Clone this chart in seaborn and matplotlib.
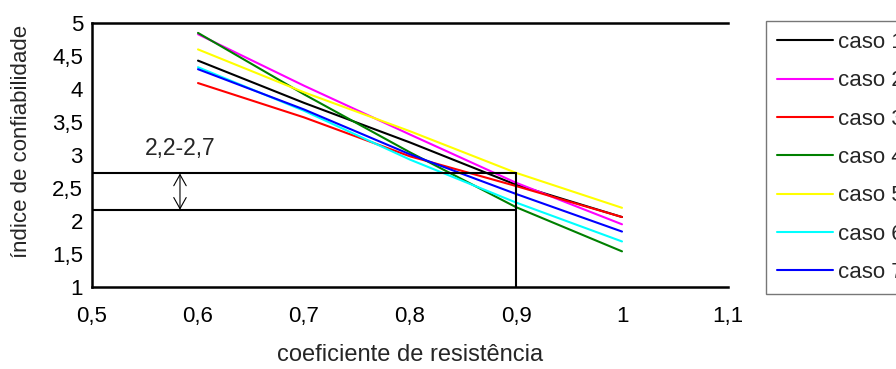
import numpy as np
import pandas as pd
import matplotlib
matplotlib.use("Agg")
import matplotlib.pyplot as plt
import seaborn as sns
from matplotlib.lines import Line2D

# ---- data ----
coef = [0.6, 0.7, 0.8, 0.9, 1.0]
caso1 = [4.43, 3.79, 3.19, 2.55, 2.06]
caso2 = [4.83, 4.05, 3.31, 2.58, 1.95]
caso3 = [4.09, 3.57, 2.98, 2.53, 2.06]
caso4 = [4.85, 3.92, 3.04, 2.21, 1.54]
caso5 = [4.60, 3.95, 3.36, 2.73, 2.20]
caso6 = [4.33, 3.67, 2.93, 2.28, 1.69]
caso7 = [4.30, 3.69, 3.01, 2.41, 1.84]
labels = ["caso 1", "caso 2", "caso 3", "caso 4", "caso 5", "caso 6", "caso 7"]
colors = ["#000000", "#FF00FF", "#FF0000", "#008000", "#FFFF00", "#00FFFF", "#0000FF"]
range_low, range_high = 2.17, 2.72
range_x = 0.9
range_label = "2,2-2,7"
xticks = [0.5, 0.6, 0.7, 0.8, 0.9, 1.0, 1.1]
xticklabels = ["0,5", "0,6", "0,7", "0,8", "0,9", "1", "1,1"]
yticks = [1, 1.5, 2, 2.5, 3, 3.5, 4, 4.5, 5]
yticklabels = ["1", "1,5", "2", "2,5", "3", "3,5", "4", "4,5", "5"]

series = [caso1, caso2, caso3, caso4, caso5, caso6, caso7]
df = pd.DataFrame({
    "coef": np.tile(coef, len(labels)),
    "beta": np.concatenate(series),
    "caso": np.repeat(labels, len(coef)),
})

sns.set_style("white")
plt.rcParams["font.family"] = ["Liberation Sans", "DejaVu Sans"]

fig = plt.figure(figsize=(8.96, 3.69), dpi=100)
ax = fig.add_axes([92 / 896, 1 - 287 / 369, (728 - 92) / 896, (287 - 23) / 369])

sns.lineplot(data=df, x="coef", y="beta", hue="caso", palette=colors,
             linewidth=1.5, ax=ax, legend=False, sort=False)

# range box
ax.plot([0.5, range_x], [range_high, range_high], color="black", lw=1.5)
ax.plot([0.5, range_x], [range_low, range_low], color="black", lw=1.5)
ax.plot([range_x, range_x], [1, range_high], color="black", lw=1.5)
ax.annotate("", xy=(0.583, range_low), xytext=(0.583, range_high),
            arrowprops=dict(arrowstyle="<->,head_length=0.5,head_width=0.28",
                            mutation_scale=16, color="black", lw=0.8,
                            shrinkA=0, shrinkB=0))
ax.text(0.583, 2.93, range_label, ha="center", va="bottom", fontsize=16.5)

ax.set_xlim(0.5, 1.1)
ax.set_ylim(1, 5)
ax.set_xticks(xticks)
ax.set_xticklabels(xticklabels)
ax.set_yticks(yticks)
ax.set_yticklabels(yticklabels)
ax.tick_params(axis="both", direction="inout", length=8, width=1.2,
               labelsize=16, colors="black")
ax.tick_params(axis="x", pad=10)
ax.tick_params(axis="y", pad=2.5)
for s in ["left", "bottom", "top"]:
    ax.spines[s].set_color("black")
    ax.spines[s].set_linewidth(1.8)
ax.spines["right"].set_visible(False)

ax.set_xlabel("coeficiente de resistência", fontsize=17, labelpad=12)
ax.set_ylabel("índice de confiabilidade", fontsize=16)
ax.yaxis.set_label_coords(-0.094, 0.55)

handles = [Line2D([0], [0], color=c, lw=1.5) for c in colors]
leg = fig.legend(handles, labels, loc="upper left",
                 bbox_to_anchor=(766 / 896, 1 - 21 / 369),
                 frameon=True, fancybox=False, fontsize=16,
                 handlelength=2.5, handletextpad=0.25,
                 labelspacing=0.78, borderpad=0.5, borderaxespad=0)
leg.get_frame().set_edgecolor("#555555")
leg.get_frame().set_linewidth(1.0)

fig.savefig("out.png", dpi=100)
